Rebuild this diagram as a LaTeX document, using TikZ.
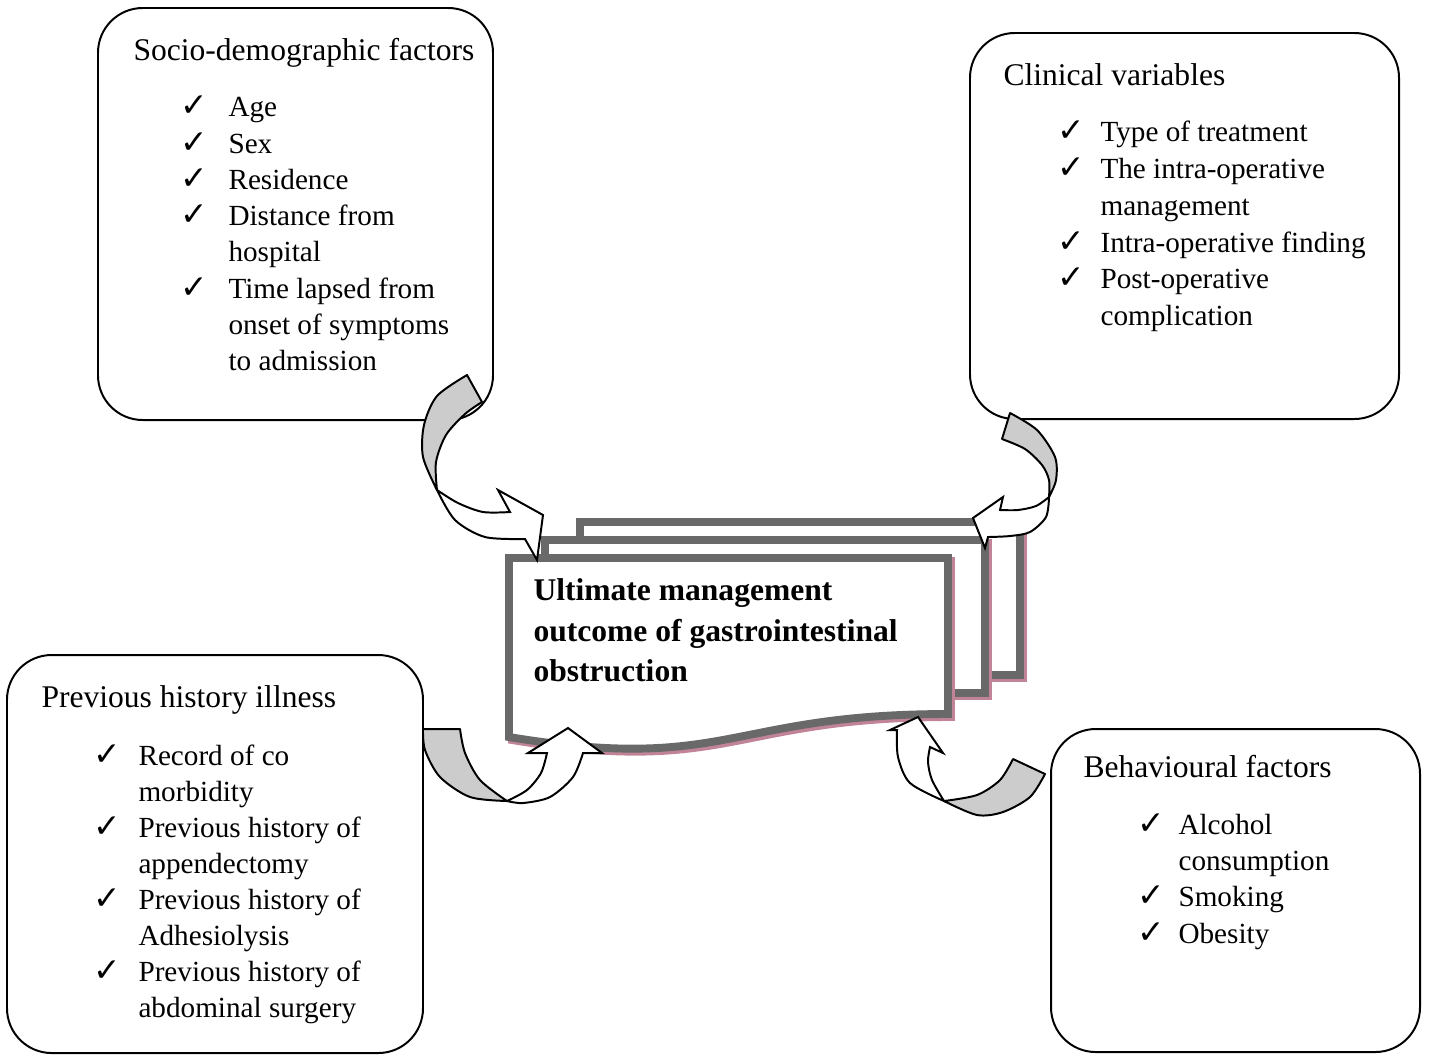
\documentclass[tikz,border=0pt]{standalone}
\usepackage{fontspec}
\setmainfont{Liberation Serif}
\newfontfamily\symfont{DejaVu Sans}
\usetikzlibrary{fit}
\definecolor{docgray}{RGB}{105,105,105}
\definecolor{docpink}{RGB}{192,132,150}
\definecolor{backface}{RGB}{204,204,204}
\begin{document}
\begin{tikzpicture}[x=0.3802pt,y=-0.3802pt,
  box/.style={draw=black,line width=0.75pt,rounded corners=17pt,inner sep=0pt},
  htxt/.style={anchor=base west,inner sep=0pt,font=\fontsize{12pt}{13.8pt}\selectfont},
  txt/.style={anchor=base west,inner sep=0pt,font=\fontsize{11.1pt}{13.8pt}\selectfont},
  btxt/.style={anchor=base west,inner sep=0pt,font=\fontsize{12pt}{13.8pt}\selectfont\bfseries},
  chk/.style={anchor=base west,inner sep=0pt,font=\symfont\fontsize{12.5pt}{13pt}\selectfont},
  doc/.style={draw=docgray,line width=3pt,fill=white,line join=miter},
  docshadow/.style={draw=docpink,line width=3pt,line join=miter},
  backband/.style={draw=black,line width=0.75pt,line join=round,fill=backface},
  frontband/.style={draw=black,line width=0.75pt,line join=miter,fill=white},
]
\useasboundingbox (0,0) rectangle (1429,1055);

% ---------- boxes ----------
\coordinate (sdA) at (98,8);    \coordinate (sdB) at (493,420);
\coordinate (cvA) at (970,33);  \coordinate (cvB) at (1399,419);
\coordinate (phA) at (7,655);   \coordinate (phB) at (423,1053);
\coordinate (bfA) at (1051,729);\coordinate (bfB) at (1420,1052);
\node[box,fit=(sdA)(sdB)] (sd) {};
\node[box,fit=(cvA)(cvB)] (cv) {};
\node[box,fit=(phA)(phB)] (ph) {};
\node[box,fit=(bfA)(bfB)] (bf) {};

% ---------- socio-demographic ----------
\node[htxt] (sdh) at (133,60) {Socio-demographic factors};
\node[chk] (sdc1) at (180,116) {✓}; \node[txt] (sdt1) at (228,116) {Age};
\node[chk] (sdc2) at (180,153) {✓}; \node[txt] (sdt2) at (228,153) {Sex};
\node[chk] (sdc3) at (180,189) {✓}; \node[txt] (sdt3) at (228,189) {Residence};
\node[chk] (sdc4) at (180,225) {✓}; \node[txt] (sdt4) at (228,225) {Distance from};
\node[txt] (sdt4b) at (228,261) {hospital};
\node[chk] (sdc5) at (180,298) {✓}; \node[txt] (sdt5) at (228,298) {Time lapsed from};
\node[txt] (sdt5b) at (228,334) {onset of symptoms};
\node[txt] (sdt5c) at (228,370) {to admission};

% ---------- clinical ----------
\node[htxt] (cvh) at (1003,85) {Clinical variables};
\node[chk] (cvc1) at (1057,141) {✓}; \node[txt] (cvt1) at (1100,141) {Type of treatment};
\node[chk] (cvc2) at (1057,178) {✓}; \node[txt] (cvt2) at (1100,178) {The intra-operative};
\node[txt] (cvt2b) at (1100,215) {management};
\node[chk] (cvc3) at (1057,252) {✓}; \node[txt] (cvt3) at (1100,252) {Intra-operative finding};
\node[chk] (cvc4) at (1057,288) {✓}; \node[txt] (cvt4) at (1100,288) {Post-operative};
\node[txt] (cvt4b) at (1100,325) {complication};

% ---------- previous history ----------
\node[htxt] (phh) at (41,707) {Previous history illness};
\node[chk] (phc1) at (93,765) {✓}; \node[txt] (pht1) at (138,765) {Record of co};
\node[txt] (pht1b) at (138,801) {morbidity};
\node[chk] (phc2) at (93,837) {✓}; \node[txt] (pht2) at (138,837) {Previous history of};
\node[txt] (pht2b) at (138,873) {appendectomy};
\node[chk] (phc3) at (93,909) {✓}; \node[txt] (pht3) at (138,909) {Previous history of};
\node[txt] (pht3b) at (138,945) {Adhesiolysis};
\node[chk] (phc4) at (93,981) {✓}; \node[txt] (pht4) at (138,981) {Previous history of};
\node[txt] (pht4b) at (138,1017) {abdominal surgery};

% ---------- behavioural ----------
\node[htxt] (bfh) at (1083,777) {Behavioural factors};
\node[chk] (bfc1) at (1137,834) {✓}; \node[txt] (bft1) at (1178,834) {Alcohol};
\node[txt] (bft1b) at (1178,870) {consumption};
\node[chk] (bfc2) at (1137,906) {✓}; \node[txt] (bft2) at (1178,906) {Smoking};
\node[chk] (bfc3) at (1137,943) {✓}; \node[txt] (bft3) at (1178,943) {Obesity};

% ---------- multidocument ----------
\draw[docshadow] (583,525) rectangle (1023,678);
\draw[doc] (580,522) rectangle (1020,675);
\draw[docshadow] (548,543) rectangle (988,696);
\draw[doc] (545,540) rectangle (985,693);
\draw[docshadow] (512,561) -- (951,561) -- (951,717) .. controls (731,717) and (731,776) .. (512,740) -- cycle;
\draw[doc] (509,558) -- (948,558) -- (948,714) .. controls (728,714) and (728,773) .. (509,737) -- cycle;
\node[btxt] (ct1) at (533,600) {Ultimate management};
\node[btxt] (ct2) at (533,641) {outcome of gastrointestinal};
\node[btxt] (ct3) at (533,681) {obstruction};

% ---------- curved arrows ----------
% top-left
\draw[backband] (467,375) -- plot[smooth] coordinates {(467,375) (437,396) (424,425) (423,457) (437,490)}
  -- plot[smooth] coordinates {(437,490) (436,462) (446,435) (465,414) (482,402)} -- cycle;
\draw[frontband] (437,490) -- plot[smooth] coordinates {(437,490) (455,520) (485,537) (525,539)}
  -- (537,560) -- (543,515) -- (498,490) -- (510,512)
  -- plot[smooth] coordinates {(510,512) (483,512) (458,503) (437,490)} -- cycle;
% top-right
\draw[backband] (1010,413) -- plot[smooth] coordinates {(1010,413) (1037,430) (1055,457) (1056,480) (1049,497)}
  -- plot[smooth] coordinates {(1049,497) (1049,480) (1042,465) (1025,449) (1002,439)} -- cycle;
\draw[frontband] (1049,497) -- plot[smooth] coordinates {(1049,497) (1046,517) (1030,532) (1010,536) (988,537)}
  -- (985,548) -- (973,518) -- (1003,497) -- (1000,510)
  -- plot[smooth] coordinates {(1000,510) (1018,510) (1036,506) (1049,497)} -- cycle;
% bottom-left
\draw[backband] (423,729) -- plot[smooth] coordinates {(423,729) (425,750) (440,777) (470,797) (507,801)}
  -- plot[smooth] coordinates {(507,801) (480,780) (465,753) (460,729)} -- cycle;
\draw[frontband] (507,801) -- plot[smooth] coordinates {(507,801) (523,803) (550,797) (573,777) (583,753)}
  -- (602,753) -- (568,728) -- (528,753) -- (547,753)
  -- plot[smooth] coordinates {(547,753) (541,773) (527,790) (507,801)} -- cycle;
% bottom-right
\draw[backband] (1045,774) -- plot[smooth] coordinates {(1045,774) (1030,797) (1003,812) (977,815) (944,801)}
  -- plot[smooth] coordinates {(944,801) (977,795) (1000,780) (1013,759)} -- cycle;
\draw[frontband] (944,801) -- plot[smooth] coordinates {(944,801) (910,783) (898,757) (897,730)}
  -- (890,730) -- (918,717) -- (943,753) -- (930,747)
  -- plot[smooth] coordinates {(930,747) (928,762) (932,780) (944,801)} -- cycle;
\end{tikzpicture}
\end{document}
